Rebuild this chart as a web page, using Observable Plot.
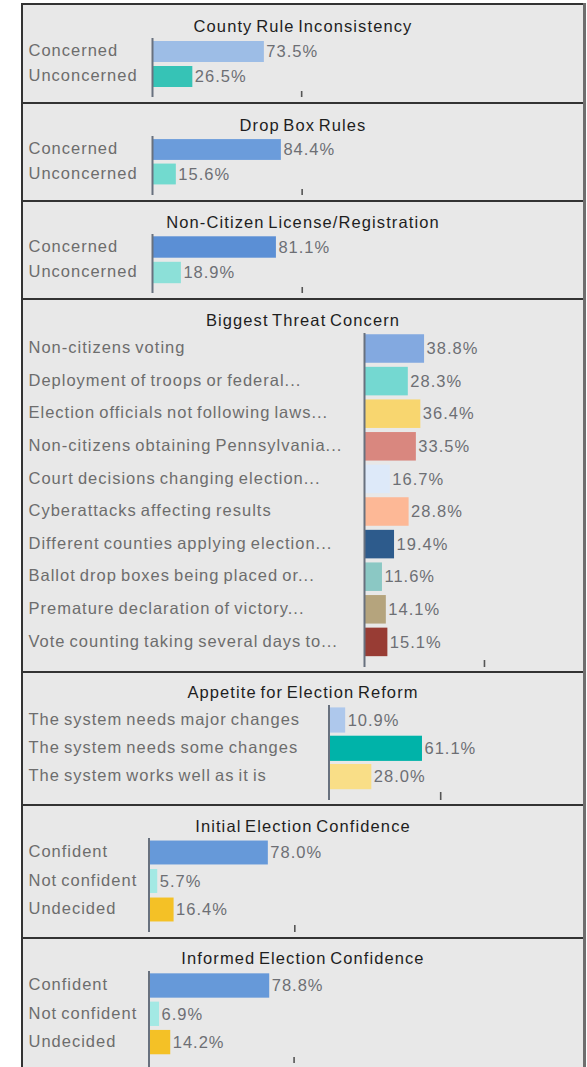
<!DOCTYPE html>
<html><head><meta charset="utf-8">
<script src="https://cdn.jsdelivr.net/npm/d3@7"></script>
<script src="https://cdn.jsdelivr.net/npm/@observablehq/plot@0.6"></script>
<style>
body{margin:0;background:#fff;width:587px;height:1067px;overflow:hidden;position:relative;font-family:"Liberation Sans",Arial,sans-serif;}
#frame{position:absolute;left:21px;top:3px;width:562px;height:1064px;background:#333;}
#rborder{position:absolute;left:583px;top:3px;width:3px;height:1064px;background:#6e6e6e;}
.panel{position:absolute;left:23px;width:560px;background:#e8e8e8;overflow:hidden;}
.title{position:absolute;left:0;width:100%;text-align:center;font-size:16.5px;letter-spacing:1.1px;word-spacing:-2px;color:#1e1e1e;line-height:20px;}
.panel svg{position:absolute;left:0;top:0;}
</style></head><body>
<div id="frame"></div><div id="rborder"></div>
<script>
// ---- data ----
const panelTitles = ["County Rule Inconsistency","Drop Box Rules","Non-Citizen License/Registration","Biggest Threat Concern","Appetite for Election Reform","Initial Election Confidence","Informed Election Confidence"];

const countyLabels = ["Concerned","Unconcerned"];
const countyValues = [73.5, 26.5];
const countyColors = ["#9dbde6","#36c3b6"];

const dropBoxLabels = ["Concerned","Unconcerned"];
const dropBoxValues = [84.4, 15.6];
const dropBoxColors = ["#6b9cdb","#72dacf"];

const nonCitizenLabels = ["Concerned","Unconcerned"];
const nonCitizenValues = [81.1, 18.9];
const nonCitizenColors = ["#5b8fd5","#8ce0d8"];

const threatLabels = ["Non-citizens voting","Deployment of troops or federal...","Election officials not following laws...","Non-citizens obtaining Pennsylvania...","Court decisions changing election...","Cyberattacks affecting results","Different counties applying election...","Ballot drop boxes being placed or...","Premature declaration of victory...","Vote counting taking several days to..."];
const threatValues = [38.8, 28.3, 36.4, 33.5, 16.7, 28.8, 19.4, 11.6, 14.1, 15.1];
const threatColors = ["#83a9e0","#74d8d1","#f8d66f","#d9877f","#dde9f9","#fdb896","#2d5b8c","#8bc8c4","#b5a47d","#983c34"];

const reformLabels = ["The system needs major changes","The system needs some changes","The system works well as it is"];
const reformValues = [10.9, 61.1, 28.0];
const reformColors = ["#aec8ec","#00b3a9","#f9de87"];

const initialLabels = ["Confident","Not confident","Undecided"];
const initialValues = [78.0, 5.7, 16.4];
const initialColors = ["#6699d9","#a3e9e4","#f4c126"];

const informedLabels = ["Confident","Not confident","Undecided"];
const informedValues = [78.8, 6.9, 14.2];
const informedColors = ["#6699d9","#a3e9e4","#f4c126"];

const tickValues = [98, 98, 98, 77.5, 73, 95.3, 94.7];

// ---- layout ----
const layouts = [
  {top:5,   height:97,  axisX:152,   k:1.522, row0:46.5, step:25,   pad:0.16,  axisTop:33, tickTop:86,  tickSize:6, ext:6,  titleY:21},
  {top:104, height:96,  axisX:152,   k:1.527, row0:45.5, step:24.5, pad:0.15,  axisTop:32, tickTop:85,  tickSize:6, ext:6,  titleY:21},
  {top:202, height:96,  axisX:152,   k:1.528, row0:45,   step:25.5, pad:0.16,  axisTop:32, tickTop:85,  tickSize:6, ext:6,  titleY:20},
  {top:300, height:371, axisX:364,   k:1.548, row0:48.5, step:32.6, pad:0.125, axisTop:33, tickTop:360, tickSize:7, ext:7,  titleY:20},
  {top:673, height:131, axisX:328.5, k:1.53,  row0:47,   step:28.3, pad:0.11,  axisTop:32, tickTop:119, tickSize:8, ext:8,  titleY:19},
  {top:806, height:131, axisX:148.5, k:1.53,  row0:46.5, step:28.5, pad:0.16,  axisTop:32, tickTop:119, tickSize:7, ext:7,  titleY:20},
  {top:939, height:128, axisX:148.5, k:1.532, row0:46.5, step:28.3, pad:0.14,  axisTop:32, tickTop:118, tickSize:6, ext:10, titleY:19}
];

const series = [
  [countyLabels, countyValues, countyColors],
  [dropBoxLabels, dropBoxValues, dropBoxColors],
  [nonCitizenLabels, nonCitizenValues, nonCitizenColors],
  [threatLabels, threatValues, threatColors],
  [reformLabels, reformValues, reformColors],
  [initialLabels, initialValues, initialColors],
  [informedLabels, informedValues, informedColors]
];

series.forEach(([labels, values, colors], i) => {
  const L = layouts[i];
  const data = labels.map((label, j) => ({label, value: values[j], color: colors[j]}));
  const W = 560;
  const ml = L.axisX - 23;
  const n = labels.length;
  const y0 = L.row0 - L.step / 2;
  const chart = Plot.plot({
    width: W,
    height: L.height,
    marginLeft: ml,
    marginRight: W - ml - 100 * L.k,
    marginTop: L.axisTop,
    marginBottom: L.height - L.tickTop,
    x: {domain: [0, 100], range: [ml, ml + 100 * L.k]},
    y: {domain: labels, range: [y0, y0 + n * L.step], paddingInner: L.pad, paddingOuter: L.pad / 2, align: 0.5, round: false, axis: null},
    color: {type: "identity"},
    style: {background: "transparent", fontFamily: "'Liberation Sans', Arial, sans-serif", fontSize: "16.5px", letterSpacing: "1px", wordSpacing: "-1.5px", overflow: "visible"},
    marks: [
      Plot.barX(data, {x: "value", y: "label", fill: d => d.color}),
      Plot.text(data, {y: "label", text: "label", frameAnchor: "left", textAnchor: "start", dx: 5 - ml, dy: -1, fill: "#6d6d6d"}),
      Plot.text(data, {x: "value", y: "label", text: d => d.value.toFixed(1) + "%", textAnchor: "start", dx: 2, fill: "#6d6f74", letterSpacing: "0.6px"}),
      Plot.ruleX([0], {stroke: "#68717e", strokeWidth: 2, insetBottom: -L.ext}),
      Plot.axisX([tickValues[i]], {tickSize: L.tickSize, tickFormat: () => "", stroke: "#555", strokeWidth: 1.6, label: null})
    ]
  });
  const panel = document.createElement("div");
  panel.className = "panel";
  panel.style.top = L.top + "px";
  panel.style.height = L.height + "px";
  panel.appendChild(chart);
  const t = document.createElement("div");
  t.className = "title";
  t.style.top = (L.titleY - 10) + "px";
  t.textContent = panelTitles[i];
  panel.appendChild(t);
  document.body.appendChild(panel);
});
</script>
</body></html>
